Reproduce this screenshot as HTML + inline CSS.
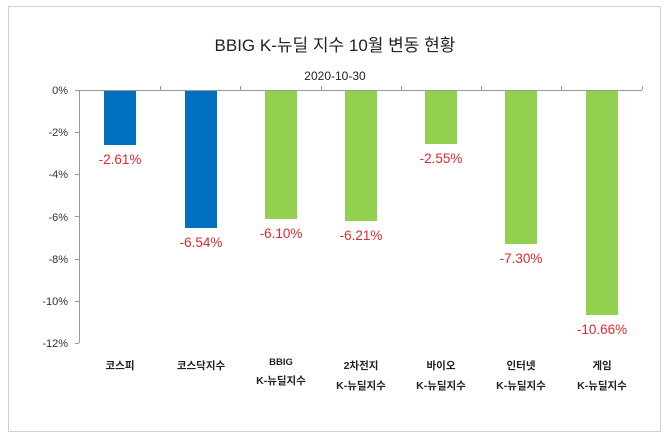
<!DOCTYPE html>
<html><head><meta charset="utf-8"><style>
body{margin:0;background:#fff;}
svg{display:block;font-family:"Liberation Sans","Noto Sans CJK KR",sans-serif;}
</style></head><body>
<svg width="670" height="440" xmlns="http://www.w3.org/2000/svg">
<rect x="0" y="0" width="670" height="440" fill="#fff"/>
<rect x="8.5" y="6.5" width="652" height="425" fill="#fff" stroke="#d0d0d0" stroke-width="1"/>
<text x="335" y="51" font-size="17" text-anchor="middle" fill="#222">BBIG K-뉴딜 지수 10월 변동 현황</text>
<text x="335" y="80" font-size="12" text-anchor="middle" fill="#222">2020-10-30</text>
<g font-size="11" fill="#333" text-anchor="end">
<text x="68" y="94">0%</text><text x="68" y="136">-2%</text><text x="68" y="178">-4%</text>
<text x="68" y="221">-6%</text><text x="68" y="263">-8%</text><text x="68" y="305">-10%</text><text x="68" y="347">-12%</text>
</g>
<g stroke="#999" stroke-width="1">
<line x1="79.5" y1="90" x2="79.5" y2="343"/>
<line x1="75" y1="90.5" x2="642" y2="90.5"/>
<line x1="75" y1="132.5" x2="79" y2="132.5"/><line x1="75" y1="174.5" x2="79" y2="174.5"/>
<line x1="75" y1="216.5" x2="79" y2="216.5"/><line x1="75" y1="259.5" x2="79" y2="259.5"/>
<line x1="75" y1="301.5" x2="79" y2="301.5"/><line x1="75" y1="343.5" x2="79" y2="343.5"/>
<line x1="160.5" y1="86" x2="160.5" y2="90"/><line x1="240.5" y1="86" x2="240.5" y2="90"/>
<line x1="321.5" y1="86" x2="321.5" y2="90"/><line x1="401.5" y1="86" x2="401.5" y2="90"/>
<line x1="481.5" y1="86" x2="481.5" y2="90"/><line x1="561.5" y1="86" x2="561.5" y2="90"/>
<line x1="642.5" y1="86" x2="642.5" y2="90"/>
</g>
<g>
<rect x="104" y="91" width="32" height="54" fill="#0070c0"/>
<rect x="185" y="91" width="32" height="137" fill="#0070c0"/>
<rect x="265" y="91" width="32" height="128" fill="#92d050"/>
<rect x="345" y="91" width="32" height="130" fill="#92d050"/>
<rect x="425" y="91" width="32" height="53" fill="#92d050"/>
<rect x="505" y="91" width="32" height="153" fill="#92d050"/>
<rect x="586" y="91" width="32" height="224" fill="#92d050"/>
</g>
<g font-size="13.5" fill="#e0282e" text-anchor="middle">
<text x="120" y="164">-2.61%</text><text x="201" y="247">-6.54%</text>
<text x="281" y="238">-6.10%</text><text x="361" y="240">-6.21%</text>
<text x="441" y="163">-2.55%</text><text x="521" y="263">-7.30%</text>
<text x="602" y="334">-10.66%</text>
</g>
<g font-size="10.5" font-weight="bold" fill="#222" text-anchor="middle">
<text x="120" y="369">코스피</text><text x="201" y="369">코스닥지수</text>
<text x="281" y="365" font-size="9.5">BBIG</text><text x="281" y="384">K-뉴딜지수</text>
<text x="361" y="369">2차전지</text><text x="361" y="389">K-뉴딜지수</text>
<text x="441" y="369">바이오</text><text x="441" y="389">K-뉴딜지수</text>
<text x="521" y="369">인터넷</text><text x="521" y="389">K-뉴딜지수</text>
<text x="602" y="369">게임</text><text x="602" y="389">K-뉴딜지수</text>
</g>
</svg>
</body></html>
